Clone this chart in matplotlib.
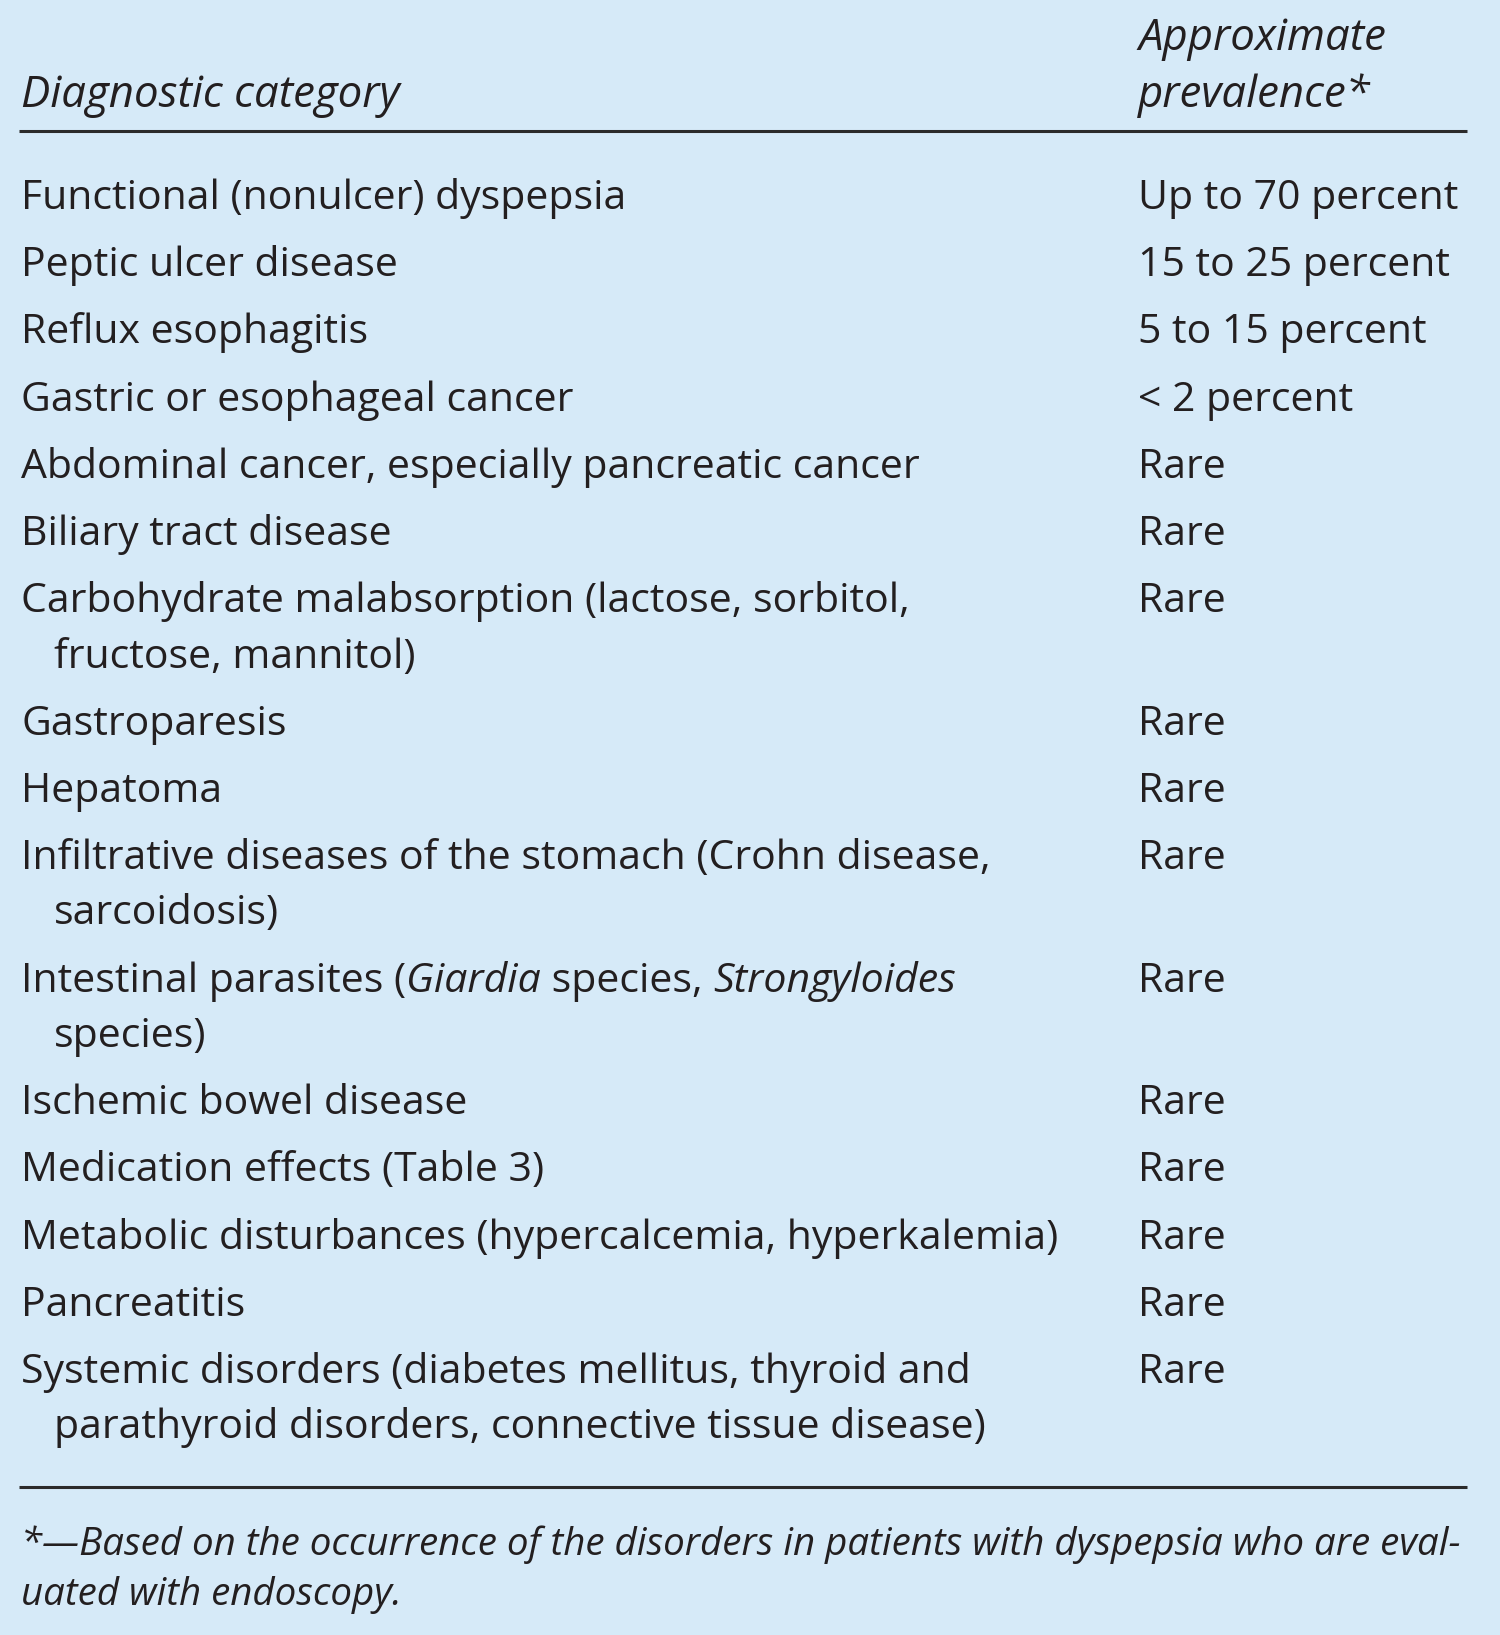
import matplotlib
matplotlib.use("Agg")
import matplotlib.pyplot as plt

# table content
header_left = "Diagnostic category"
header_right = ["Approximate", "prevalence*"]

categories = [
    ["Functional (nonulcer) dyspepsia"],
    ["Peptic ulcer disease"],
    ["Reflux esophagitis"],
    ["Gastric or esophageal cancer"],
    ["Abdominal cancer, especially pancreatic cancer"],
    ["Biliary tract disease"],
    ["Carbohydrate malabsorption (lactose, sorbitol,", "fructose, mannitol)"],
    ["Gastroparesis"],
    ["Hepatoma"],
    ["Infiltrative diseases of the stomach (Crohn disease,", "sarcoidosis)"],
    ["Intestinal parasites (Giardia species, Strongyloides", "species)"],
    ["Ischemic bowel disease"],
    ["Medication effects (Table 3)"],
    ["Metabolic disturbances (hypercalcemia, hyperkalemia)"],
    ["Pancreatitis"],
    ["Systemic disorders (diabetes mellitus, thyroid and",
     "parathyroid disorders, connective tissue disease)"],
]
prevalence = ["Up to 70 percent", "15 to 25 percent", "5 to 15 percent", "< 2 percent",
              "Rare", "Rare", "Rare", "Rare", "Rare", "Rare", "Rare", "Rare", "Rare",
              "Rare", "Rare", "Rare"]
italic_words = ["Giardia", "Strongyloides"]

footnote = ["*\u2014Based on the occurrence of the disorders in patients with dyspepsia who are eval-",
            "uated with endoscopy."]

W, H = 1500, 1635
BG = "#d6eaf8"
INK = "#231f20"
FONT = "Open Sans"

fig = plt.figure(figsize=(W / 100, H / 100), dpi=100, facecolor=BG)
ax = fig.add_axes([0, 0, 1, 1])
ax.set_xlim(0, W)
ax.set_ylim(H, 0)
ax.axis("off")
renderer = fig.canvas.get_renderer()

x_left, x_right, x_end = 21, 1138, 1467
size = 29.5
head_size = 31.5


def draw_mixed(x, y, line):
    # split the line so that species names come out in italic
    parts = [(line, "normal")]
    for word in italic_words:
        new = []
        for txt, st in parts:
            if st == "normal" and word in txt:
                a, b = txt.split(word, 1)
                new += [(a, "normal"), (word, "italic"), (b, "normal")]
            else:
                new.append((txt, st))
        parts = new
    for txt, st in parts:
        if not txt:
            continue
        t = ax.text(x, y, txt, fontsize=size, family=FONT, style=st, color=INK,
                    va="baseline", ha="left")
        bb = t.get_window_extent(renderer)
        x += bb.width


# header
ax.text(x_left, 107, header_left, fontsize=head_size, family=FONT, style="italic",
        color=INK, va="baseline")
ax.text(x_right, 50, header_right[0], fontsize=head_size, family=FONT, style="italic",
        color=INK, va="baseline")
ax.text(x_right, 107, header_right[1], fontsize=head_size, family=FONT, style="italic",
        color=INK, va="baseline")
ax.plot([19, x_end], [131, 131], color="#2b2b2b", lw=2.2, solid_capstyle="butt")

# rows
y = 209
for lines, prev in zip(categories, prevalence):
    ax.text(x_right, y, prev, fontsize=size, family=FONT, color=INK, va="baseline")
    for i, line in enumerate(lines):
        draw_mixed(x_left + (33 if i else 0), y + i * 55.3, line)
    y += 67.2 + 55.3 * (len(lines) - 1)

ax.plot([19, x_end], [1487, 1487], color="#2b2b2b", lw=2.2, solid_capstyle="butt")

# footnote, sized so the first line runs to the right edge of the rule
fn = ax.text(x_left, 1555, footnote[0], fontsize=23, family=FONT, style="italic",
             color=INK, va="baseline")
fn_size = 23 * (x_end - x_left) / fn.get_window_extent(renderer).width
fn.set_fontsize(fn_size)
ax.text(x_left, 1605, footnote[1], fontsize=fn_size, family=FONT, style="italic",
        color=INK, va="baseline")

fig.savefig("out.png", dpi=100, facecolor=BG)
